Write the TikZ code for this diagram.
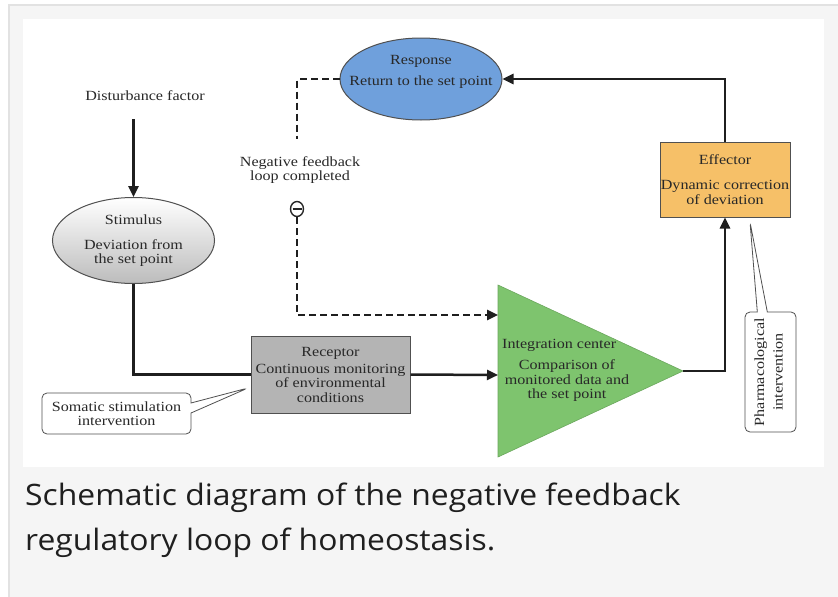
\documentclass[tikz,border=0pt]{standalone}
\usepackage{fontspec}
\setmainfont[FakeStretch=1.15]{Liberation Serif}
\newfontfamily\capfont[FakeStretch=1.08]{Open Sans}
\usetikzlibrary{positioning,arrows.meta,calc,shapes.geometric,shapes.callouts}
\definecolor{page}{RGB}{245,245,245}
\definecolor{pageline}{RGB}{226,226,226}
\definecolor{ink}{RGB}{40,40,40}
\definecolor{frameline}{RGB}{80,80,80}
\definecolor{resp}{RGB}{111,160,220}
\definecolor{effect}{RGB}{246,192,104}
\definecolor{integ}{RGB}{126,196,110}
\definecolor{recep}{RGB}{180,180,180}
\definecolor{stimlow}{RGB}{188,188,188}
\tikzset{
  txt/.style={font=\fontsize{14}{14.5}\selectfont, text=ink, align=center, inner sep=0pt},
  oval/.style={ellipse, draw=frameline, line width=1pt, inner sep=0pt},
  blk/.style={draw=frameline, line width=1pt, inner sep=0pt},
  wire/.style={line width=2.5pt, black!88},
  flow/.style={wire, -{Triangle[length=11pt,width=10pt]}},
  fb/.style={dash pattern=on 7pt off 4pt},
  note/.style={rectangle callout, draw=frameline, fill=white, line width=0.8pt,
               rounded corners=5pt, inner sep=0pt, callout pointer width=10pt},
}

\begin{document}
\begin{tikzpicture}[x=1pt, y=-1pt]

  %% page and panel
  \useasboundingbox (0,0) rectangle (838,597);
  \fill[white] (0,0) rectangle (838,597);
  \draw[fill=page, draw=pageline, line width=2pt] (9,5) rectangle (842,601);
  \fill[white] (23,19) rectangle (824,467);

  %% loop elements
  \node[oval, fill=resp, minimum width=162pt, minimum height=82pt] (resp) at (421,79) {};
  \node[txt] (resptxt) at (421,72) {Response\\[6.5pt]Return to the set point};

  \node[txt] (dist) at (145,96) {Disturbance factor};
  \node[oval, txt, top color=white, bottom color=stimlow,
        minimum width=162pt, minimum height=86pt] (stim) at (133.5,240.5)
        {Stimulus\\[10.5pt]Deviation from\\the set point};

  \node[blk, txt, fill=recep, minimum width=159pt, minimum height=77pt] (rec) at (330.5,374.5)
        {Receptor\\[2.5pt]Continuous monitoring\\of environmental\\conditions};

  \node[blk, txt, fill=effect, minimum width=130pt, minimum height=75pt] (eff) at (725,179.5)
        {Effector\\[10.5pt]Dynamic correction\\of deviation};

  %% integration center (triangle)
  \coordinate (icA) at (498,285);
  \coordinate (icO) at (683,371);
  \coordinate (icB) at (498,457);
  \coordinate (icin) at (498,375);
  \coordinate (icfb) at (498,315);
  \draw[fill=integ, draw=integ!85!black, line width=0.6pt] (icA) -- (icO) -- (icB) -- cycle;
  \node[txt, anchor=west] (ictitle) at (502,345) {Integration center};
  \node[txt] (ictxt) at (567,381) {Comparison of\\monitored data and\\the set point};

  %% negative feedback branch
  \node[txt] (negtxt) at (300,170) {Negative feedback\\loop completed};
  \coordinate (fbend) at (297,139);
  \node[ellipse, draw=ink, line width=1.4pt, minimum width=13pt, minimum height=15pt, inner sep=0pt,
        path picture={\draw[ink, line width=1.5pt]
          ([xshift=2pt]path picture bounding box.west) -- ([xshift=-2pt]path picture bounding box.east);}]
        (neg) at (297,209) {};

  %% interventions
  \node[note, txt, minimum width=149pt, minimum height=41pt,
        callout absolute pointer={(248,388)}] (soma) at (116.5,413.5)
        {Somatic stimulation\\intervention};
  \node[note, txt, minimum width=51pt, minimum height=120pt,
        callout absolute pointer={(750,222)}] (pharm) at (770.5,372)
        {\rotatebox{90}{\begin{tabular}{@{}c@{}}Pharmacological\\[4pt]intervention\end{tabular}}};

  %% connectors
  \draw[flow] (dist.south -| stim.north) ++(0,18) -- (stim.north);
  \draw[wire] (stim.south) |- (rec.west);
  \draw[flow] (rec.east) -- (icin);
  \draw[flow] (icO) -| (eff.south);
  \draw[flow] (eff.north) |- (resp.east);
  \draw[wire, fb] (resp.west) -| (fbend);
  \draw[flow, fb] (neg.south) |- (icfb);

  %% caption
  \node[font=\capfont\fontsize{29.5}{34}\selectfont, text=black!88, anchor=base west, inner sep=0pt]
        (cap1) at (25,505) {Schematic diagram of the negative feedback};
  \node[font=\capfont\fontsize{29.5}{34}\selectfont, text=black!88, anchor=base west, inner sep=0pt]
        (cap2) at (25,550) {regulatory loop of homeostasis.};
\end{tikzpicture}
\end{document}
